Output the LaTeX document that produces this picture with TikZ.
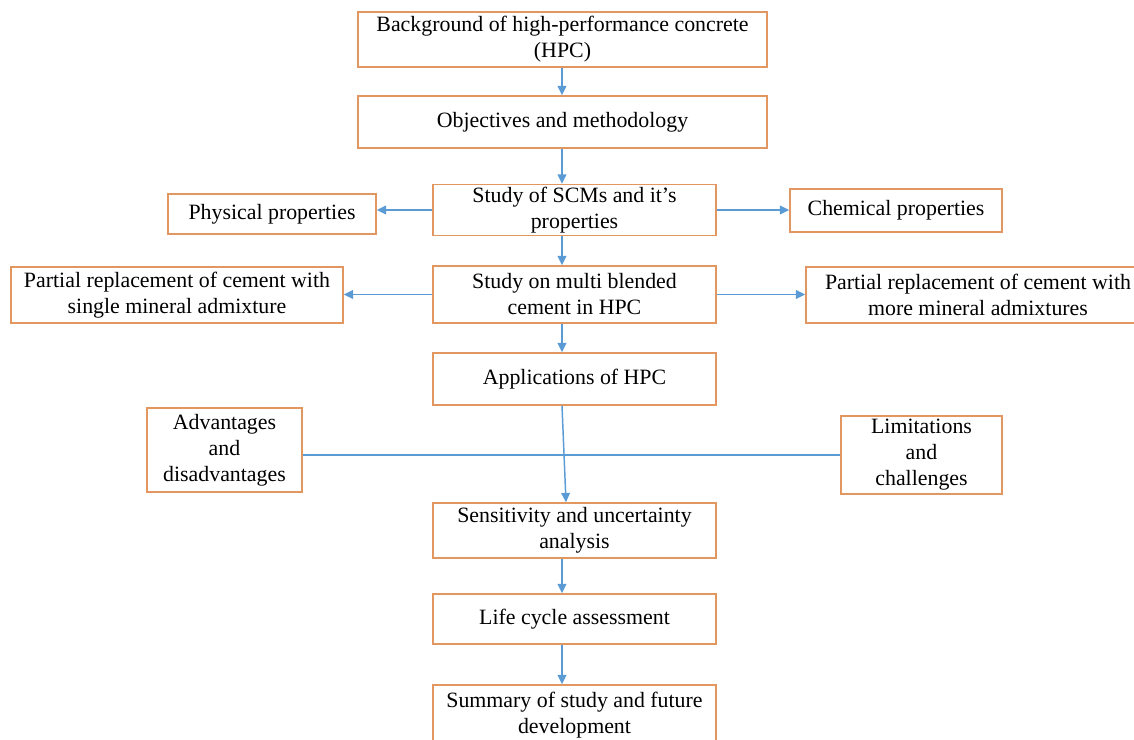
\documentclass[tikz,border=0pt]{standalone}
\usepackage{fontspec}
\setmainfont{Liberation Serif}
\usetikzlibrary{math}
\usetikzlibrary{arrows.meta}
\definecolor{boxorange}{RGB}{226,150,96}
\definecolor{flowblue}{RGB}{91,155,213}
\tikzset{box/.style={draw=boxorange, line width=1.1pt, fill=white, align=center, inner sep=0pt, font=\fontsize{16.4}{19.5}\selectfont},
	flow/.style={draw=flowblue, line width=1.1pt, -{Triangle[length=7pt,width=6.5pt]}},
	flowline/.style={draw=flowblue, line width=1.1pt}}

\begin{document}
\begin{tikzpicture}[x=0.75pt,y=-0.75pt]
	\tikzmath{\spx=562; \wmain=212.25pt;}
	\useasboundingbox (0,0) rectangle (1134,739);
	\clip (0,0) rectangle (1134,739);
	\coordinate (spine) at (\spx,0);

	\node[box, minimum width=306.75pt, minimum height=41.25pt] (bg) at (562.5,39.5) {Background of high-performance concrete\\(HPC)};
	\node[box, minimum width=306.75pt, minimum height=39pt] (obj) at (562.5,122) {Objectives and methodology};
	\node[box, minimum width=\wmain, minimum height=38.25pt] (scm) at (574.5,210) {Study of SCMs and it's\\properties};
	\node[box, minimum width=156pt, minimum height=30pt] (phys) at (272,214) {Physical properties};
	\node[box, minimum width=159pt, minimum height=32.25pt] (chem) at (896,210.5) {Chemical properties};
	\node[box, minimum width=\wmain, minimum height=42.75pt] (multi) at (574.5,294.5) {Study on multi blended\\cement in HPC};
	\node[box, minimum width=249pt, minimum height=42pt] (single) at (177,295) {Partial replacement of cement with\\single mineral admixture};
	\node[box, minimum width=258pt, minimum height=42pt] (more) at (978,295) {Partial replacement of cement with\\more mineral admixtures};
	\node[box, minimum width=\wmain, minimum height=39pt] (app) at (574.5,379) {Applications of HPC};
	\node[box, minimum width=116.25pt, minimum height=63pt] (adv) at (224.5,450) {Advantages\\and\\disadvantages};
	\node[box, minimum width=120.75pt, minimum height=58.5pt] (lim) at (921.5,455) {Limitations\\and\\challenges};
	\node[box, minimum width=\wmain, minimum height=41.25pt] (sens) at (574.5,530.5) {Sensitivity and uncertainty\\analysis};
	\node[box, minimum width=\wmain, minimum height=37.5pt] (life) at (574.5,619) {Life cycle assessment};
	\node[box, minimum width=\wmain, minimum height=45pt] (sum) at (574.5,715) {Summary of study and future\\development};

	% main spine
	\draw[flow] (bg.south -| spine) -- (obj.north -| spine);
	\draw[flow] (obj.south -| spine) -- (scm.north -| spine);
	\draw[flow] (scm.south -| spine) -- (multi.north -| spine);
	\draw[flow] (multi.south -| spine) -- (app.north -| spine);
	\draw[flow] (app.south -| spine) -- ([xshift=3pt]sens.north -| spine);
	\draw[flow] (sens.south -| spine) -- (life.north -| spine);
	\draw[flow] (life.south -| spine) -- (sum.north -| spine);

	% side branches
	\draw[flow] (scm.west) -- (phys.east |- scm.west);
	\draw[flow] (scm.east) -- (chem.west |- scm.east);
	\draw[flow] (multi.west) -- (single.east |- multi.west);
	\draw[flow] (multi.east) -- (more.west |- multi.east);
	\draw[flowline] (adv.east |- lim.west) -- (lim.west);
\end{tikzpicture}
\end{document}
